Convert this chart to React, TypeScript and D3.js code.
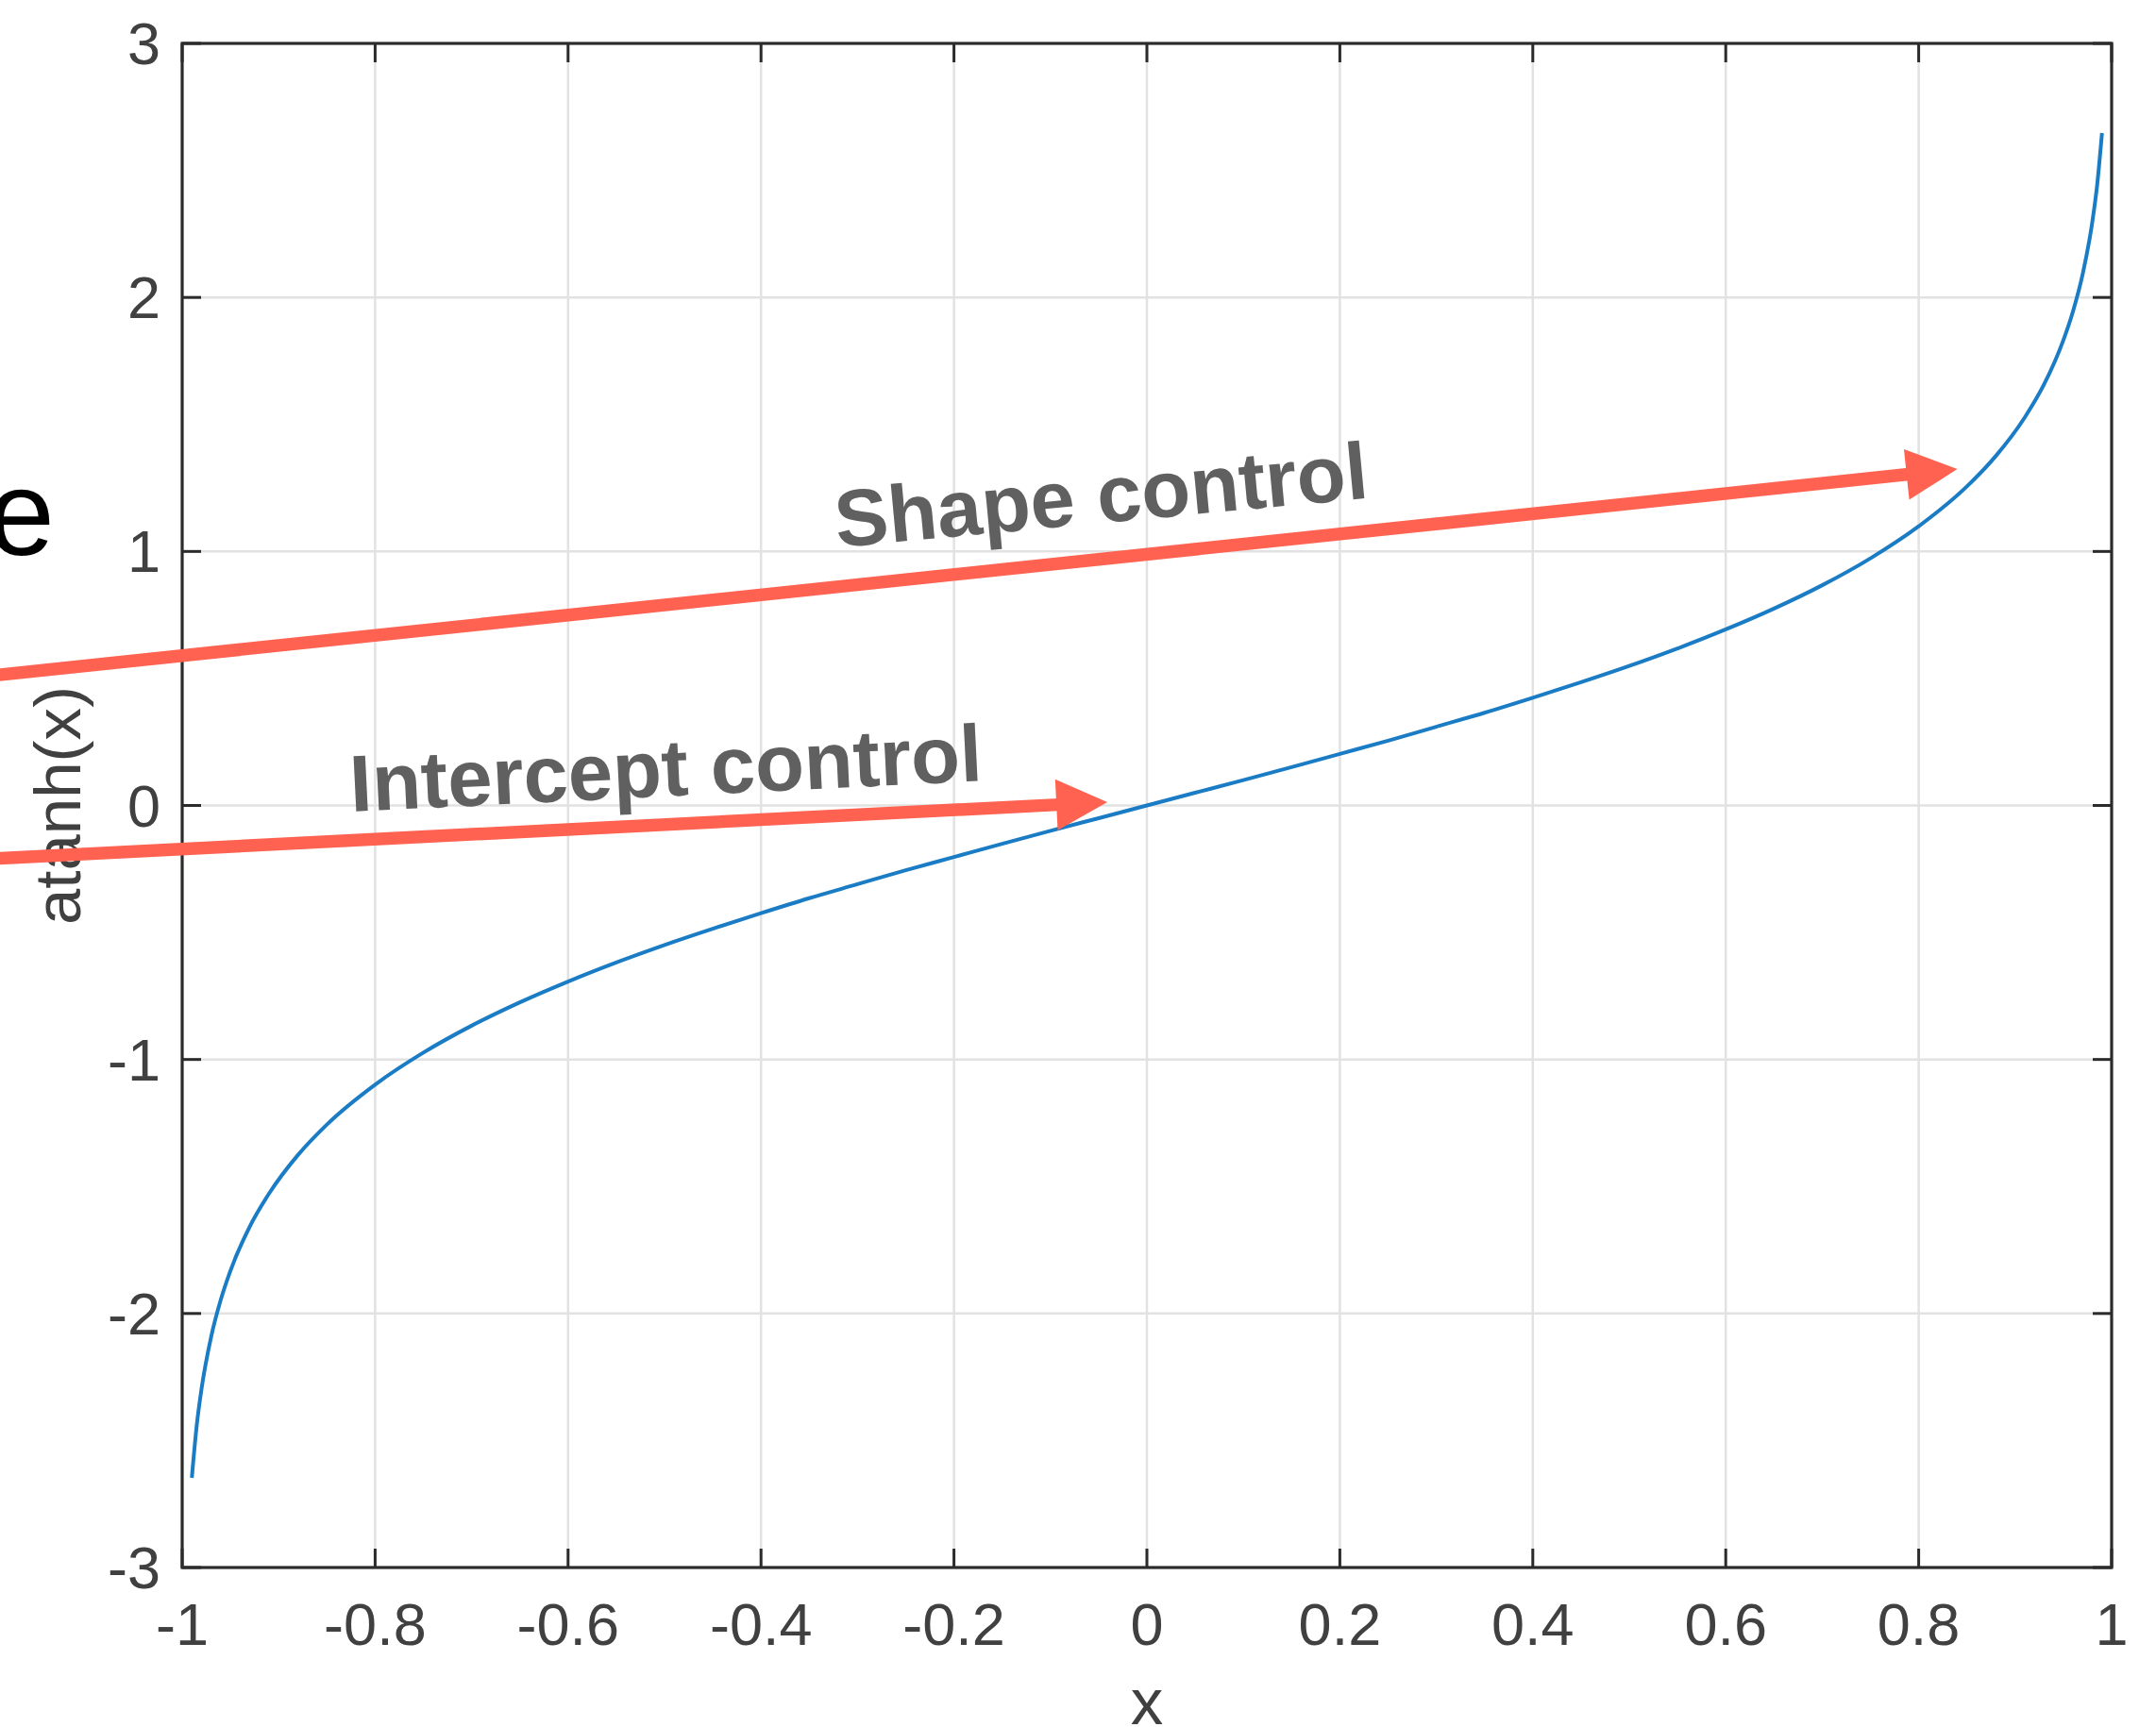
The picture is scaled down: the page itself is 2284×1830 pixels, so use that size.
import React from 'react';
import * as d3 from 'd3';

// Sampled curve y = atanh(x)
const xValues = [
  -0.99, -0.985, -0.98, -0.97, -0.96, -0.95, -0.93, -0.91, -0.88, -0.85, -0.8, -0.75, -0.7,
  -0.65, -0.6, -0.55, -0.5, -0.45, -0.4, -0.35, -0.3, -0.25, -0.2, -0.15, -0.1, -0.05, 0,
  0.05, 0.1, 0.15, 0.2, 0.25, 0.3, 0.35, 0.4, 0.45, 0.5, 0.55, 0.6, 0.65, 0.7, 0.75, 0.8,
  0.85, 0.88, 0.91, 0.93, 0.95, 0.96, 0.97, 0.98, 0.985, 0.99,
];
const yValues = [
  -2.647, -2.443, -2.298, -2.092, -1.946, -1.832, -1.658, -1.528, -1.376, -1.256, -1.099,
  -0.973, -0.867, -0.775, -0.693, -0.618, -0.549, -0.485, -0.424, -0.365, -0.31, -0.255,
  -0.203, -0.151, -0.1, -0.05, 0, 0.05, 0.1, 0.151, 0.203, 0.255, 0.31, 0.365, 0.424, 0.485,
  0.549, 0.618, 0.693, 0.775, 0.867, 0.973, 1.099, 1.256, 1.376, 1.528, 1.658, 1.832, 1.946,
  2.092, 2.298, 2.443, 2.647,
];

const xTicks = [-1, -0.8, -0.6, -0.4, -0.2, 0, 0.2, 0.4, 0.6, 0.8, 1];
const xTickLabels = ['-1', '-0.8', '-0.6', '-0.4', '-0.2', '0', '0.2', '0.4', '0.6', '0.8', '1'];
const yTicks = [-3, -2, -1, 0, 1, 2, 3];
const yTickLabels = ['-3', '-2', '-1', '0', '1', '2', '3'];

const xAxisTitle = 'x';
const yAxisTitle = 'atanh(x)';

// Annotation arrows, in data units: tail -> tip
const arrowNames = ['Shape control', 'Intercept control'];
const arrowTailX = [-1.2, -1.2];
const arrowTailY = [0.51, -0.21];
const arrowTipX = [0.84, -0.041];
const arrowTipY = [1.324, 0.013];
const arrowTextX = [-0.321, -0.825];
const arrowTextY = [1.016, -0.024];
const arrowTextAngle = [-5.3, -2.8];

const W = 2284;
const H = 1830;
const plotLeft = 193;
const plotRight = 2237;
const plotTop = 46;
const plotBottom = 1661;

const FONT = '"Liberation Sans", Arial, Helvetica, sans-serif';

export default function App() {
  const x = d3.scaleLinear().domain([-1, 1]).range([plotLeft, plotRight]);
  const y = d3.scaleLinear().domain([-3, 3]).range([plotBottom, plotTop]);

  const line = d3
    .line<number>()
    .x((_, i) => x(xValues[i]))
    .y((d) => y(d))
    .curve(d3.curveMonotoneX);

  const tickLen = 20;
  const axisColor = '#2b2b2b';
  const textColor = '#404040';
  const gridColor = '#e2e2e2';
  const arrowColor = '#ff6250';
  const headLen = 54;
  const headHalf = 27;

  const arrows = arrowNames.map((name, i) => {
    const x0 = x(arrowTailX[i]);
    const y0 = y(arrowTailY[i]);
    const x1 = x(arrowTipX[i]);
    const y1 = y(arrowTipY[i]);
    const a = Math.atan2(y1 - y0, x1 - x0);
    const c = Math.cos(a);
    const s = Math.sin(a);
    const bx = x1 - headLen * c;
    const by = y1 - headLen * s;
    const head = [
      [x1, y1],
      [bx - headHalf * s, by + headHalf * c],
      [bx + headHalf * s, by - headHalf * c],
    ];
    return {
      name,
      x0,
      y0,
      lx: bx + 2 * c,
      ly: by + 2 * s,
      head: head.map((p) => p.join(',')).join(' '),
      tx: x(arrowTextX[i]),
      ty: y(arrowTextY[i]),
      angle: arrowTextAngle[i],
    };
  });

  return (
    <svg
      width={W}
      height={H}
      viewBox={`0 0 ${W} ${H}`}
      style={{ position: 'absolute', left: 0, top: 0, display: 'block', background: '#fff' }}
    >
      <rect x={0} y={0} width={W} height={H} fill="#fff" />

      {/* grid */}
      <g stroke={gridColor} strokeWidth={2.5}>
        {xTicks.slice(1, -1).map((t) => (
          <line key={`gx${t}`} x1={x(t)} x2={x(t)} y1={plotTop} y2={plotBottom} />
        ))}
        {yTicks.slice(1, -1).map((t) => (
          <line key={`gy${t}`} x1={plotLeft} x2={plotRight} y1={y(t)} y2={y(t)} />
        ))}
      </g>

      {/* curve */}
      <path d={line(yValues) || ''} fill="none" stroke="#1a7cc4" strokeWidth={4} />

      {/* ticks on all four sides, pointing inward */}
      <g stroke={axisColor} strokeWidth={3}>
        {xTicks.map((t) => (
          <g key={`tx${t}`}>
            <line x1={x(t)} x2={x(t)} y1={plotBottom} y2={plotBottom - tickLen} />
            <line x1={x(t)} x2={x(t)} y1={plotTop} y2={plotTop + tickLen} />
          </g>
        ))}
        {yTicks.map((t) => (
          <g key={`ty${t}`}>
            <line x1={plotLeft} x2={plotLeft + tickLen} y1={y(t)} y2={y(t)} />
            <line x1={plotRight} x2={plotRight - tickLen} y1={y(t)} y2={y(t)} />
          </g>
        ))}
      </g>

      {/* box */}
      <rect
        x={plotLeft}
        y={plotTop}
        width={plotRight - plotLeft}
        height={plotBottom - plotTop}
        fill="none"
        stroke={axisColor}
        strokeWidth={3.2}
      />

      {/* tick labels */}
      <g fontFamily={FONT} fontSize={63} fill={textColor}>
        {xTicks.map((t, i) => (
          <text key={`lx${t}`} x={x(t)} y={plotBottom + 82} textAnchor="middle">
            {xTickLabels[i]}
          </text>
        ))}
        {yTicks.map((t, i) => (
          <text key={`ly${t}`} x={plotLeft - 23} y={y(t) + 22} textAnchor="end">
            {yTickLabels[i]}
          </text>
        ))}
      </g>

      {/* axis titles */}
      <g fontFamily={FONT} fontSize={69} fill={textColor}>
        <text x={x(0)} y={1827} textAnchor="middle">
          {xAxisTitle}
        </text>
        <text
          transform={`translate(85, ${(plotTop + plotBottom) / 2}) rotate(-90)`}
          textAnchor="middle"
        >
          {yAxisTitle}
        </text>
      </g>

      {/* trailing letter of a caption running off the left edge */}
      <text x={58} y={588} textAnchor="end" fontFamily={FONT} fontSize={128} fill="#000">
        e
      </text>

      {/* annotation arrows */}
      {arrows.map((a) => (
        <g key={a.name}>
          <line x1={a.x0} y1={a.y0} x2={a.lx} y2={a.ly} stroke={arrowColor} strokeWidth={13.5} />
          <polygon points={a.head} fill={arrowColor} />
          <text
            transform={`translate(${a.tx}, ${a.ty}) rotate(${a.angle})`}
            fontFamily={FONT}
            fontWeight="bold"
            fontSize={85}
            fill="#606060"
          >
            {a.name}
          </text>
        </g>
      ))}
    </svg>
  );
}
